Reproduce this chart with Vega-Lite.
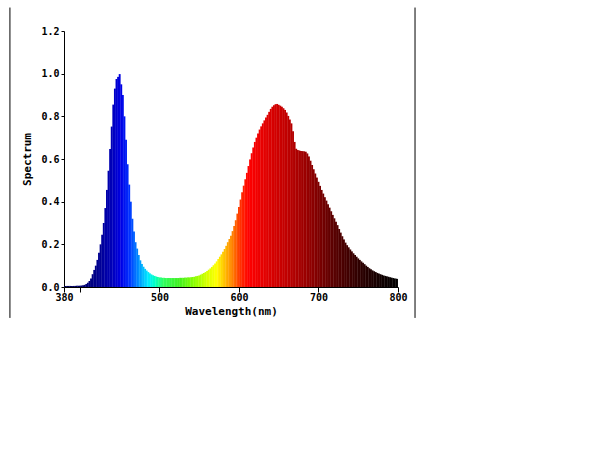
{
  "$schema": "https://vega.github.io/schema/vega-lite/v6.json",
  "autosize": {"type": "none"},
  "padding": {"left": 64, "top": 31, "right": 216, "bottom": 173},
  "width": 334,
  "height": 256,
  "background": "white",
  "config": {
    "view": {"stroke": null},
    "font": "DejaVu Sans Mono",
    "axis": {
      "labelFont": "DejaVu Sans Mono",
      "labelFontWeight": "bold",
      "labelFontSize": 10,
      "labelColor": "#000000",
      "titleFont": "DejaVu Sans Mono",
      "titleFontWeight": "bold",
      "titleFontSize": 11,
      "titleColor": "#000000",
      "domainColor": "#000000",
      "tickColor": "#000000",
      "grid": false
    }
  },
  "datasets": {
    "frame": [{"side": "left"}],
    "spec": [
      {"w":380,"v":0.005},{"w":382,"v":0.005},{"w":384,"v":0.005},{"w":386,"v":0.005},{"w":388,"v":0.005},
      {"w":390,"v":0.005},{"w":392,"v":0.005},{"w":394,"v":0.005},{"w":396,"v":0.006},{"w":398,"v":0.006},
      {"w":400,"v":0.006},{"w":402,"v":0.007},{"w":404,"v":0.008},{"w":406,"v":0.01},{"w":408,"v":0.014},
      {"w":410,"v":0.02},{"w":412,"v":0.028},{"w":414,"v":0.04},{"w":416,"v":0.06},{"w":418,"v":0.08},
      {"w":420,"v":0.1},{"w":422,"v":0.127},{"w":424,"v":0.16},{"w":426,"v":0.2},{"w":428,"v":0.245},
      {"w":430,"v":0.3},{"w":432,"v":0.37},{"w":434,"v":0.455},{"w":436,"v":0.545},{"w":438,"v":0.647},
      {"w":440,"v":0.752},{"w":442,"v":0.855},{"w":444,"v":0.93},{"w":446,"v":0.975},{"w":448,"v":0.985},
      {"w":450,"v":0.998},{"w":452,"v":0.95},{"w":454,"v":0.9},{"w":456,"v":0.8},{"w":458,"v":0.69},
      {"w":460,"v":0.575},{"w":462,"v":0.48},{"w":464,"v":0.4},{"w":466,"v":0.32},{"w":468,"v":0.26},
      {"w":470,"v":0.21},{"w":472,"v":0.18},{"w":474,"v":0.15},{"w":476,"v":0.125},{"w":478,"v":0.108},
      {"w":480,"v":0.095},{"w":482,"v":0.085},{"w":484,"v":0.077},{"w":486,"v":0.07},{"w":488,"v":0.064},
      {"w":490,"v":0.059},{"w":492,"v":0.055},{"w":494,"v":0.052},{"w":496,"v":0.049},{"w":498,"v":0.047},
      {"w":500,"v":0.045},{"w":502,"v":0.044},{"w":504,"v":0.043},{"w":506,"v":0.043},{"w":508,"v":0.042},
      {"w":510,"v":0.042},{"w":512,"v":0.042},{"w":514,"v":0.042},{"w":516,"v":0.042},{"w":518,"v":0.042},
      {"w":520,"v":0.042},{"w":522,"v":0.042},{"w":524,"v":0.042},{"w":526,"v":0.043},{"w":528,"v":0.043},
      {"w":530,"v":0.043},{"w":532,"v":0.044},{"w":534,"v":0.044},{"w":536,"v":0.045},{"w":538,"v":0.045},
      {"w":540,"v":0.046},{"w":542,"v":0.047},{"w":544,"v":0.048},{"w":546,"v":0.05},{"w":548,"v":0.052},
      {"w":550,"v":0.054},{"w":552,"v":0.058},{"w":554,"v":0.062},{"w":556,"v":0.066},{"w":558,"v":0.07},
      {"w":560,"v":0.075},{"w":562,"v":0.081},{"w":564,"v":0.087},{"w":566,"v":0.094},{"w":568,"v":0.102},
      {"w":570,"v":0.11},{"w":572,"v":0.12},{"w":574,"v":0.131},{"w":576,"v":0.142},{"w":578,"v":0.153},
      {"w":580,"v":0.165},{"w":582,"v":0.178},{"w":584,"v":0.193},{"w":586,"v":0.21},{"w":588,"v":0.225},
      {"w":590,"v":0.24},{"w":592,"v":0.262},{"w":594,"v":0.286},{"w":596,"v":0.313},{"w":598,"v":0.344},
      {"w":600,"v":0.375},{"w":602,"v":0.41},{"w":604,"v":0.444},{"w":606,"v":0.475},{"w":608,"v":0.505},
      {"w":610,"v":0.535},{"w":612,"v":0.567},{"w":614,"v":0.598},{"w":616,"v":0.627},{"w":618,"v":0.654},
      {"w":620,"v":0.68},{"w":622,"v":0.7},{"w":624,"v":0.72},{"w":626,"v":0.738},{"w":628,"v":0.753},
      {"w":630,"v":0.767},{"w":632,"v":0.781},{"w":634,"v":0.794},{"w":636,"v":0.807},{"w":638,"v":0.821},
      {"w":640,"v":0.835},{"w":642,"v":0.845},{"w":644,"v":0.852},{"w":646,"v":0.857},{"w":648,"v":0.858},
      {"w":650,"v":0.854},{"w":652,"v":0.85},{"w":654,"v":0.845},{"w":656,"v":0.838},{"w":658,"v":0.83},
      {"w":660,"v":0.818},{"w":662,"v":0.802},{"w":664,"v":0.785},{"w":666,"v":0.767},{"w":668,"v":0.73},
      {"w":670,"v":0.68},{"w":672,"v":0.648},{"w":674,"v":0.642},{"w":676,"v":0.64},{"w":678,"v":0.638},
      {"w":680,"v":0.637},{"w":682,"v":0.636},{"w":684,"v":0.634},{"w":686,"v":0.626},{"w":688,"v":0.612},
      {"w":690,"v":0.592},{"w":692,"v":0.572},{"w":694,"v":0.552},{"w":696,"v":0.532},{"w":698,"v":0.513},
      {"w":700,"v":0.493},{"w":702,"v":0.474},{"w":704,"v":0.455},{"w":706,"v":0.438},{"w":708,"v":0.421},
      {"w":710,"v":0.405},{"w":712,"v":0.388},{"w":714,"v":0.372},{"w":716,"v":0.355},{"w":718,"v":0.338},
      {"w":720,"v":0.322},{"w":722,"v":0.306},{"w":724,"v":0.29},{"w":726,"v":0.272},{"w":728,"v":0.255},
      {"w":730,"v":0.238},{"w":732,"v":0.223},{"w":734,"v":0.208},{"w":736,"v":0.196},{"w":738,"v":0.186},
      {"w":740,"v":0.176},{"w":742,"v":0.167},{"w":744,"v":0.158},{"w":746,"v":0.15},{"w":748,"v":0.142},
      {"w":750,"v":0.134},{"w":752,"v":0.127},{"w":754,"v":0.12},{"w":756,"v":0.114},{"w":758,"v":0.107},
      {"w":760,"v":0.1},{"w":762,"v":0.094},{"w":764,"v":0.088},{"w":766,"v":0.083},{"w":768,"v":0.078},
      {"w":770,"v":0.074},{"w":772,"v":0.07},{"w":774,"v":0.066},{"w":776,"v":0.063},{"w":778,"v":0.06},
      {"w":780,"v":0.057},{"w":782,"v":0.054},{"w":784,"v":0.052},{"w":786,"v":0.05},{"w":788,"v":0.048},
      {"w":790,"v":0.046},{"w":792,"v":0.044},{"w":794,"v":0.042},{"w":796,"v":0.04},{"w":798,"v":0.039},
      {"w":800,"v":0.038}
    ]
  },
  "layer": [
    {
      "data": {"name": "spec"},
      "mark": {"type": "bar", "width": 1.9, "clip": true},
      "encoding": {
        "x": {
          "field": "w", "type": "quantitative",
          "scale": {"domain": [380, 800], "nice": false, "zero": false, "padding": 0},
          "axis": {
            "title": "Wavelength(nm)",
            "values": [380, 400, 500, 600, 700, 800],
            "labelExpr": "datum.value == 400 ? '' : datum.label",
            "format": "d",
            "labelFlush": false,
            "labelOverlap": false,
            "tickSize": 5,
            "labelPadding": 0,
            "titlePadding": 3
          }
        },
        "y": {
          "field": "v", "type": "quantitative",
          "scale": {"domain": [0, 1.2], "nice": false},
          "axis": {
            "title": "Spectrum",
            "values": [0, 0.2, 0.4, 0.6, 0.8, 1.0, 1.2],
            "format": ".1f",
            "labelFlush": false,
            "tickSize": 3,
            "labelPadding": 2,
            "titlePadding": 8
          }
        },
        "color": {
          "field": "w", "type": "quantitative", "legend": null,
          "scale": {
            "type": "linear",
            "interpolate": "rgb",
            "domain": [380, 420, 440, 452, 462, 470, 478, 486, 494, 505, 525, 545, 560, 572, 582, 592, 602, 612, 635, 660, 690, 720, 750, 780, 800],
            "range": ["#000050", "#000088", "#0000b8", "#0000e6", "#0030ff", "#0070ff", "#00b0ff", "#00eaff", "#00ffc8", "#30ff60", "#40f020", "#90ff00", "#d8ff00", "#ffff00", "#ffc000", "#ff8000", "#ff3000", "#ff0000", "#e00000", "#c00000", "#900000", "#580000", "#300000", "#100000", "#000000"]
          }
        }
      }
    },
    {
      "data": {"name": "frame"},
      "mark": {"type": "rule", "color": "#000000", "strokeWidth": 1, "clip": false},
      "encoding": {
        "x": {"datum": 312},
        "y": {"datum": 1.31},
        "y2": {"datum": -0.145}
      }
    },
    {
      "data": {"name": "frame"},
      "mark": {"type": "rule", "color": "#000000", "strokeWidth": 1, "clip": false},
      "encoding": {
        "x": {"datum": 821.4},
        "y": {"datum": 1.31},
        "y2": {"datum": -0.145}
      }
    }
  ]
}
